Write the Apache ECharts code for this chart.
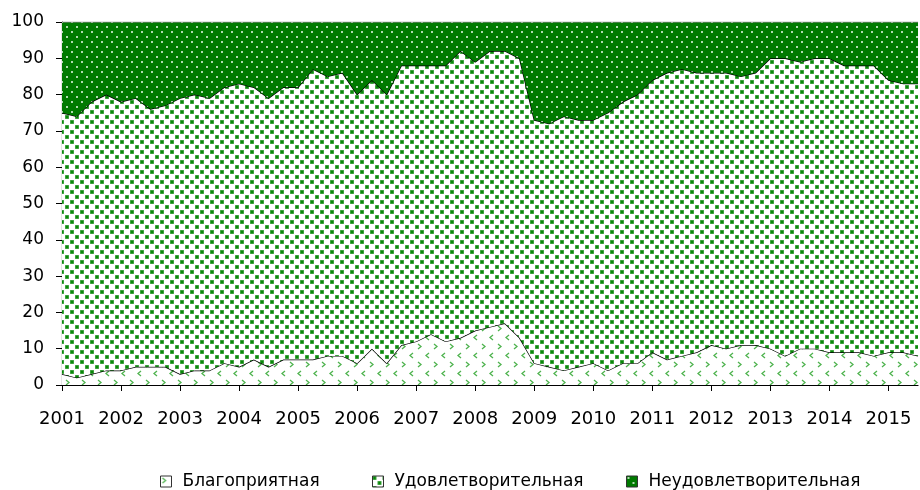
<!DOCTYPE html>
<html>
<head>
<meta charset="utf-8">
<script src="https://cdn.jsdelivr.net/npm/echarts@6/dist/echarts.min.js"></script>
<style>html,body{margin:0;padding:0;background:#fff}#c{width:920px;height:490px}</style>
</head>
<body>
<div id="c"></div>
<script>
// ---- data (quarterly 2001Q1 .. 2015Q3) ----
var years = ['2001','2002','2003','2004','2005','2006','2007','2008','2009','2010','2011','2012','2013','2014','2015'];
var quarters = ['I','II','III','IV'];
var seriesNames = ['Благоприятная','Удовлетворительная','Неудовлетворительная'];
var favorable = [3,2,3,4,4,5,5,5,3,4,4,6,5,7,5,7,7,7,8,8,6,10,6,11,12,14,12,13,15,16,17,13,6,5,4,5,6,4,6,6,9,7,8,9,11,10,11,11,10,8,10,10,9,9,9,8,9,9,8];
var satisfactory = [72,72,75,76,74,74,71,72,76,76,75,76,78,75,74,75,75,80,77,78,74,74,74,77,76,74,76,79,74,76,75,77,67,67,70,68,67,71,72,74,75,79,79,77,75,76,74,75,80,82,79,80,81,79,79,80,75,74,75];
var unsatisfactory = [25,26,22,20,22,21,24,23,21,20,21,18,17,18,21,18,18,13,15,14,20,16,20,12,12,12,12,8,11,8,8,10,27,28,26,27,27,25,22,20,16,14,13,14,14,14,15,14,10,10,11,10,10,12,12,12,16,17,17];

var categories = [];
years.forEach(function (y) { quarters.forEach(function (q) { categories.push(y + ' ' + q); }); });
categories = categories.slice(0, favorable.length);

// ---- pattern fills ----
function makePattern(w, h, bg, draw) {
  var c = document.createElement('canvas');
  c.width = w; c.height = h;
  var ctx = c.getContext('2d');
  if (bg) { ctx.fillStyle = bg; ctx.fillRect(0, 0, w, h); }
  draw(ctx);
  return { image: c, repeat: 'repeat' };
}
var patFav = makePattern(16, 18, '#ffffff', function (ctx) {
  ctx.strokeStyle = '#4fb34f'; ctx.lineWidth = 1.3;
  ctx.beginPath(); ctx.moveTo(2, 2); ctx.lineTo(5, 4.5); ctx.lineTo(2, 7); ctx.stroke();
  ctx.beginPath(); ctx.moveTo(13, 11); ctx.lineTo(10, 13.5); ctx.lineTo(13, 16); ctx.stroke();
});
var patSat = makePattern(10, 10, '#ffffff', function (ctx) {
  ctx.fillStyle = '#6ab86a';
  ctx.fillRect(0, 0, 4, 4); ctx.fillRect(5, 5, 4, 4);
  ctx.fillStyle = '#0a870a';
  ctx.fillRect(0.5, 0.5, 3, 3); ctx.fillRect(5.5, 5.5, 3, 3);
});
var patUnsat = makePattern(10, 10, '#007a00', function (ctx) {
  ctx.fillStyle = '#9fd09f';
  ctx.fillRect(1, 1, 2, 2); ctx.fillRect(6, 6, 2, 2);
  ctx.fillStyle = '#e6f3e6';
  ctx.fillRect(1.5, 1.5, 1, 1); ctx.fillRect(6.5, 6.5, 1, 1);
});
var pats = [patFav, patSat, patUnsat];
var values = [favorable, satisfactory, unsatisfactory];

var FONT = 'DejaVu Sans';
var chart = echarts.init(document.getElementById('c'), null, { renderer: 'canvas' });

var series = seriesNames.map(function (name, i) {
  return {
    name: name,
    type: 'line',
    stack: 'total',
    data: values[i],
    symbol: 'none',
    animation: false,
    z: 2 + i,
    lineStyle: i < 2 ? { color: '#000', width: 1.3 } : { color: '#8a8a8a', width: 1 },
    itemStyle: { color: pats[i] },
    areaStyle: { color: pats[i], opacity: 1 }
  };
});

var legendLefts = [155, 367, 621];
var legends = seriesNames.map(function (name, i) {
  return {
    left: legendLefts[i],
    top: 468,
    itemWidth: 11,
    itemHeight: 11,
    selectedMode: false,
    data: [{ name: name, icon: 'rect', itemStyle: { color: pats[i], borderColor: '#333', borderWidth: 1 } }],
    textStyle: { fontFamily: FONT, fontSize: 17, color: '#000', padding: [0, 0, 0, 6] }
  };
});

chart.setOption({
  animation: false,
  backgroundColor: '#fff',
  grid: { left: 62, right: 2, top: 22, bottom: 105 },
  legend: legends,
  xAxis: {
    type: 'category',
    data: categories,
    boundaryGap: false,
    axisLine: { lineStyle: { color: '#000', width: 1.2 } },
    axisTick: { interval: 3, length: 6, lineStyle: { color: '#000' } },
    axisLabel: {
      interval: 3, margin: 25, color: '#000', fontFamily: FONT, fontSize: 18,
      formatter: function (v) { return v.split(' ')[0]; }
    },
    splitLine: { show: false }
  },
  yAxis: {
    type: 'value',
    min: 0, max: 100, interval: 10,
    axisLine: { show: true, lineStyle: { color: '#000', width: 1.2 } },
    axisTick: { show: true, length: 6, lineStyle: { color: '#000' } },
    axisLabel: { margin: 18, color: '#000', fontFamily: FONT, fontSize: 17 },
    splitLine: { show: false }
  },
  series: series
});
</script>
</body>
</html>
